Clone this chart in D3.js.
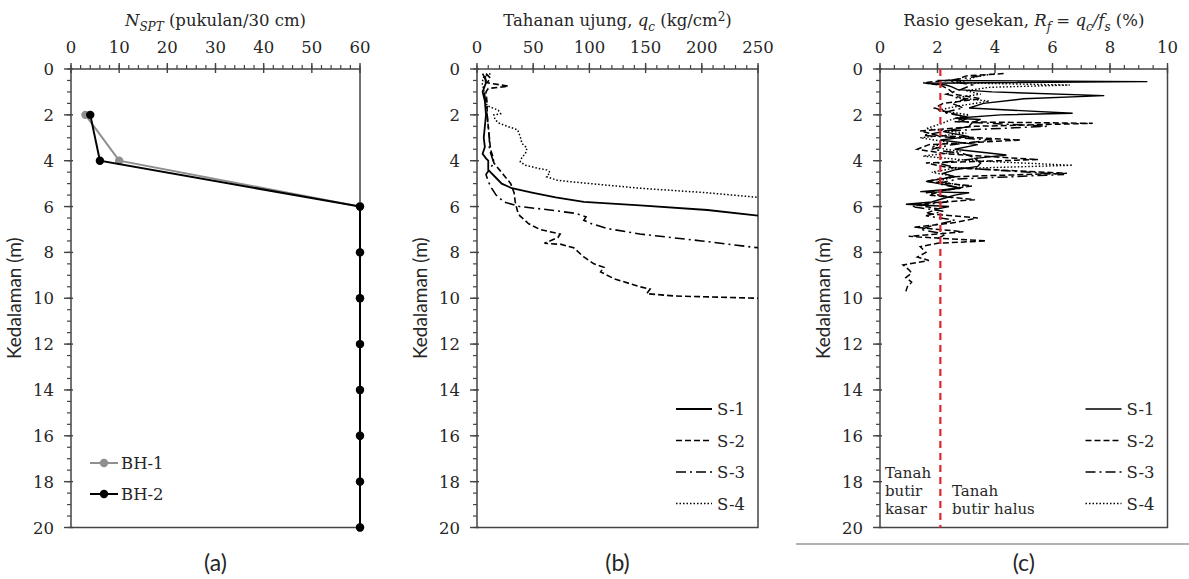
<!DOCTYPE html>
<html>
<head>
<meta charset="UTF-8">
<title>Profil NSPT, qc dan Rf</title>
<script src="https://cdn.jsdelivr.net/npm/d3@7/dist/d3.min.js"></script>
<style>
body { margin: 0; background: #fff; }
svg text { fill: #262626; }
.tick-label { font: 16.5px "DejaVu Serif", serif; }
.ytitle { font: 19px Lato, "Open Sans", sans-serif; }
.plabel { font: 23px Lato, "Open Sans", sans-serif; }
.serif { font: 16.5px "DejaVu Serif", serif; }
.frame { fill: none; stroke: #444; stroke-width: 1.5px; }
</style>
</head>
<body>
<svg id="chart" width="1189" height="579"></svg>
<script>
// ---- data ----
// (a) N-SPT
var depthA = [2, 4, 6, 8, 10, 12, 14, 16, 18, 20];
var bh1 = [3, 10, 60, 60, 60, 60, 60, 60, 60, 60];
var bh2 = [4, 6, 60, 60, 60, 60, 60, 60, 60, 60];

// (b) tahanan ujung qc (kg/cm2)
var dS1b = [0.3, 0.6, 1.0, 1.4, 2.0, 2.5, 3.0, 3.4, 3.7, 3.9, 4.0, 4.4, 4.7, 5.0, 5.2, 5.4, 5.6, 5.8, 5.95, 6.15, 6.4];
var qS1 = [7, 8, 5, 7, 8, 7, 6, 7, 5, 8, 10, 10, 16, 22, 31, 50, 70, 95, 145, 205, 250];
var dS2b = [0.2, 0.4, 0.6, 0.75, 0.85, 1.0, 1.5, 2.0, 2.5, 3.0, 3.5, 3.8, 4.1, 4.4, 4.7, 5.0, 5.4, 5.8, 6.2, 6.4, 6.75, 7.0, 7.2, 7.35, 7.6, 7.65, 7.8, 8.2, 8.5, 8.65, 8.85, 9.15, 9.5, 9.6, 9.8, 9.9, 10.0];
var qS2 = [8, 12, 9, 28, 10, 8, 9, 9, 10, 11, 12, 14, 15, 20, 25, 30, 33, 34, 36, 38, 46, 56, 74, 72, 60, 75, 86, 95, 104, 113, 110, 122, 145, 154, 151, 175, 250];
var dS3b = [0.2, 0.5, 0.8, 1.2, 1.6, 2.0, 2.5, 3.0, 3.5, 3.8, 4.1, 4.6, 4.9, 5.2, 5.5, 5.8, 6.0, 6.15, 6.3, 6.45, 6.6, 6.75, 6.95, 7.2, 7.5, 7.8];
var qS3 = [5, 8, 6, 7, 8, 9, 10, 11, 11, 13, 15, 8, 10, 13, 17, 24, 38, 65, 88, 97, 95, 102, 115, 145, 200, 250];
var dS4b = [0.2, 0.35, 0.6, 0.9, 1.3, 1.6, 1.8, 1.95, 2.0, 2.2, 2.35, 2.5, 2.65, 2.95, 3.25, 3.45, 3.7, 3.85, 4.05, 4.2, 4.35, 4.4, 4.5, 4.7, 4.85, 4.93, 5.07, 5.2, 5.4, 5.6];
var qS4 = [12, 6, 4.5, 6, 7, 9, 19, 21, 15, 16, 19, 27, 36, 38.5, 40, 44.5, 43, 40, 38.5, 43, 56, 62, 65, 62, 71, 86, 116, 145, 205, 250];

// (c) rasio gesekan Rf (%)
var dS1c = [0.5, 0.55, 0.62, 0.7, 0.78, 0.9, 1.0, 1.16, 1.3, 1.5, 1.7, 1.93, 2.0, 2.15, 2.2, 2.35, 2.5, 2.73, 2.95, 3.1, 3.3, 3.5, 3.75, 3.9, 4.1, 4.25, 4.4, 4.55, 4.7, 4.9, 5.05, 5.2, 5.35, 5.4, 5.5, 5.65, 5.8, 5.9, 6.0, 6.1];
var rS1 = [2.0, 9.3, 1.6, 2.3, 2.5, 2.7, 3.9, 7.8, 5.0, 3.6, 3.1, 6.7, 4.2, 2.6, 3.5, 3.2, 3.1, 2.2, 3.1, 2.1, 3.4, 2.6, 4.4, 3.3, 3.5, 3.4, 2.6, 2.2, 2.6, 1.6, 2.3, 2.8, 1.4, 3.1, 2.6, 2.2, 1.8, 0.9, 2.4, 2.0];
var dS2c = [0.2, 0.3, 0.45, 0.6, 0.7, 0.9, 1.1, 1.3, 1.5, 1.7, 1.9, 2.1, 2.3, 2.37, 2.5, 2.7, 2.9, 3.1, 3.3, 3.5, 3.7, 3.95, 4.1, 4.3, 4.55, 4.7, 4.9, 5.1, 5.3, 5.5, 5.7, 5.9, 6.1, 6.3, 6.5, 6.7, 6.9, 7.1, 7.3, 7.5, 7.6, 7.75, 8.0, 8.2, 8.35, 8.55, 8.75, 8.9, 9.1, 9.3, 9.5, 9.7];
var rS2 = [4.3, 3.0, 2.7, 1.5, 2.1, 2.4, 2.6, 3.5, 2.2, 1.9, 2.4, 3.0, 2.6, 7.4, 3.3, 1.4, 2.0, 4.9, 1.7, 1.3, 2.3, 5.5, 1.6, 2.4, 6.5, 2.5, 1.6, 3.2, 2.2, 1.7, 3.3, 1.2, 2.0, 1.6, 3.4, 2.6, 1.2, 2.9, 1.0, 3.7, 2.0, 1.4, 1.6, 1.3, 1.7, 0.8, 1.0, 1.1, 0.9, 1.1, 0.95, 0.9];
var dS3c = [0.3, 0.5, 0.7, 0.9, 1.1, 1.3, 1.5, 1.7, 1.9, 2.1, 2.3, 2.5, 2.7, 2.9, 3.1, 3.3, 3.5, 3.7, 3.9, 4.1, 4.3, 4.6, 4.8, 5.0, 5.2, 5.4, 5.6, 5.8, 6.0, 6.2, 6.4, 6.6, 6.8, 7.0, 7.2, 7.4];
var rS3 = [3.5, 2.4, 3.2, 2.8, 2.3, 3.0, 2.5, 2.9, 2.2, 3.1, 2.8, 5.8, 2.3, 1.5, 3.9, 2.5, 1.8, 2.9, 3.4, 2.0, 2.6, 6.4, 2.7, 2.0, 2.8, 1.6, 2.5, 2.3, 1.1, 2.2, 1.6, 2.6, 1.9, 1.4, 2.3, 2.0];
var dS4c = [0.2, 0.35, 0.5, 0.6, 0.7, 0.8, 0.95, 1.1, 1.25, 1.4, 1.6, 1.8, 2.0, 2.2, 2.4, 2.6, 2.8, 3.0, 3.2, 3.4, 3.6, 3.8, 4.0, 4.2, 4.35, 4.5, 4.7, 4.9, 5.1, 5.3];
var rS4 = [4.0, 3.3, 3.0, 2.5, 6.6, 3.8, 3.0, 3.5, 2.6, 3.8, 2.8, 2.0, 3.1, 2.5, 2.1, 1.6, 3.0, 1.4, 2.4, 1.8, 2.8, 1.5, 3.2, 6.7, 2.5, 1.8, 2.6, 2.0, 3.0, 2.2];
var rfBatas = 2.1;

var depthTicks = d3.range(0, 21, 2);
var seriesNames = ["S-1", "S-2", "S-3", "S-4"];
var bhNames = ["BH-1", "BH-2"];

// ---- layout ----
var svg = d3.select("#chart");
var yTop = 69, yBot = 527.5;
var y = d3.scaleLinear().domain([0, 20]).range([yTop, yBot]);

var dashes = ["none", "6,3", "10,4,2,4", "1.5,2"];
var widths = [1.8, 1.6, 1.6, 1.5];

function rich(sel, parts) {
  // parts: [text, italic, shift] shift: 0 normal, 1 sub, -1 sup
  var cur = 0;
  parts.forEach(function(p) {
    var sh = p[2] || 0;
    var t = sel.append("tspan").text(p[0]);
    if (p[1]) t.style("font-style", "italic");
    var target = sh * 5;
    if (target != cur) { t.attr("dy", target - cur); cur = target; }
    if (sh != 0) t.style("font-size", "12px");
  });
}

function panel(o) {
  var x = d3.scaleLinear().domain(o.dom).range([o.x0, o.x1]);
  var g = svg.append("g");

  // frame
  g.append("rect").attr("class", "frame")
    .attr("x", o.x0).attr("y", yTop).attr("width", o.x1 - o.x0).attr("height", yBot - yTop);

  // minor ticks
  var xm = d3.range(o.dom[0], o.dom[1] + 1e-9, o.minor);
  g.selectAll(".xm").data(xm).enter().append("line")
    .attr("x1", x).attr("x2", x).attr("y1", yTop - 4).attr("y2", yTop)
    .attr("stroke", "#444").attr("stroke-width", 1.2);
  var ym = d3.range(0, 20.001, 0.5);
  g.selectAll(".ym").data(ym).enter().append("line")
    .attr("x1", o.x0 - 4).attr("x2", o.x0).attr("y1", y).attr("y2", y)
    .attr("stroke", "#444").attr("stroke-width", 1.2);

  // major ticks + labels
  var xt = d3.range(o.dom[0], o.dom[1] + 1e-9, o.major);
  g.selectAll(".xt").data(xt).enter().append("line")
    .attr("x1", x).attr("x2", x).attr("y1", yTop - 6).attr("y2", yTop + 4)
    .attr("stroke", "#444").attr("stroke-width", 1.4);
  g.selectAll(".xl").data(xt).enter().append("text")
    .attr("class", "tick-label").attr("text-anchor", "middle")
    .attr("x", x).attr("y", 53).text(function(d) { return d; });
  g.selectAll(".yt").data(depthTicks).enter().append("line")
    .attr("x1", o.x0 - 7).attr("x2", o.x0 + 2).attr("y1", y).attr("y2", y)
    .attr("stroke", "#444").attr("stroke-width", 1.4);
  g.selectAll(".yl").data(depthTicks).enter().append("text")
    .attr("class", "tick-label").attr("text-anchor", "end")
    .attr("x", o.x0 - 17).attr("y", function(d) { return y(d) + 6; })
    .text(function(d) { return d; });

  // titles
  var tt = g.append("text").attr("class", "serif").attr("text-anchor", "middle")
    .attr("x", (o.x0 + o.x1) / 2).attr("y", 26);
  rich(tt, o.title);
  g.append("text").attr("class", "ytitle").attr("text-anchor", "middle")
    .attr("transform", "translate(" + (o.x0 - 50) + "," + ((yTop + yBot) / 2) + ") rotate(-90)")
    .text("Kedalaman (m)");
  g.append("text").attr("class", "plabel").attr("text-anchor", "middle")
    .attr("x", (o.x0 + o.x1) / 2).attr("y", 571).text(o.label);

  return { g: g, x: x };
}

function seriesLines(p, sets, lw) {
  var line = d3.line().x(function(d) { return p.x(d[0]); }).y(function(d) { return y(d[1]); });
  sets.forEach(function(s, i) {
    var pts = d3.zip(s[1], s[0]);
    p.g.append("path").datum(pts).attr("d", line)
      .attr("fill", "none").attr("stroke", "#000")
      .attr("stroke-width", lw[i]).attr("stroke-dasharray", dashes[i]);
  });
  // legend
  var lg = p.g.append("g");
  seriesNames.forEach(function(n, i) {
    var ly = 409 + i * 31.5;
    lg.append("line").attr("x1", p.x.range()[1] - 82).attr("x2", p.x.range()[1] - 46)
      .attr("y1", ly).attr("y2", ly).attr("stroke", "#000")
      .attr("stroke-width", lw[i]).attr("stroke-dasharray", dashes[i]);
    lg.append("text").attr("class", "serif").attr("x", p.x.range()[1] - 41)
      .attr("y", ly + 6).text(n);
  });
}

// (a)
var pa = panel({ x0: 71, x1: 360, dom: [0, 60], major: 10, minor: 2, label: "(a)",
  title: [["N", 1], ["SPT", 1, 1], [" (pukulan/30 cm)", 0]] });
var lineA = d3.line().x(function(d) { return pa.x(d[0]); }).y(function(d) { return y(d[1]); });
[[bh1, "#8f8f8f"], [bh2, "#000"]].forEach(function(s, i) {
  var pts = d3.zip(s[0], depthA);
  pa.g.append("path").datum(pts).attr("d", lineA)
    .attr("fill", "none").attr("stroke", s[1]).attr("stroke-width", 2);
  pa.g.selectAll(".m" + i).data(pts).enter().append("circle")
    .attr("cx", function(d) { return pa.x(d[0]); }).attr("cy", function(d) { return y(d[1]); })
    .attr("r", 4.2).attr("fill", s[1]);
  var ly = 463 + i * 31;
  pa.g.append("line").attr("x1", 90).attr("x2", 118).attr("y1", ly).attr("y2", ly)
    .attr("stroke", s[1]).attr("stroke-width", 2);
  pa.g.append("circle").attr("cx", 104).attr("cy", ly).attr("r", 4.2).attr("fill", s[1]);
  pa.g.append("text").attr("class", "serif").attr("x", 121).attr("y", ly + 6).text(bhNames[i]);
});

// (b)
var pb = panel({ x0: 477, x1: 758, dom: [0, 250], major: 50, minor: 10, label: "(b)",
  title: [["Tahanan ujung, ", 0], ["q", 1], ["c", 1, 1], [" (kg/cm", 0], ["2", 0, -1], [")", 0]] });
seriesLines(pb, [[dS1b, qS1], [dS2b, qS2], [dS3b, qS3], [dS4b, qS4]], widths);

// (c)
var pc = panel({ x0: 880, x1: 1167.5, dom: [0, 10], major: 2, minor: 0.5, label: "(c)",
  title: [["Rasio gesekan, ", 0], ["R", 1], ["f", 1, 1], [" = ", 0], ["q", 1], ["c", 1, 1], ["/", 1], ["f", 1], ["s", 1, 1], [" (%)", 0]] });
seriesLines(pc, [[dS1c, rS1], [dS2c, rS2], [dS3c, rS3], [dS4c, rS4]], [1.4, 1.5, 1.5, 1.4]);
pc.g.append("line").attr("x1", pc.x(rfBatas)).attr("x2", pc.x(rfBatas))
  .attr("y1", yTop).attr("y2", yBot)
  .attr("stroke", "#e0262b").attr("stroke-width", 2.2).attr("stroke-dasharray", "7,5");
["Tanah", "butir", "kasar"].forEach(function(t, i) {
  pc.g.append("text").attr("class", "serif").style("font-size", "15px")
    .attr("x", 885).attr("y", 478 + i * 18).text(t);
});
["Tanah", "butir halus"].forEach(function(t, i) {
  pc.g.append("text").attr("class", "serif").style("font-size", "15px")
    .attr("x", 952).attr("y", 496 + i * 18).text(t);
});
svg.append("line").attr("x1", 796).attr("x2", 1189).attr("y1", 544).attr("y2", 544)
  .attr("stroke", "#999").attr("stroke-width", 1.5);
</script>
</body>
</html>
